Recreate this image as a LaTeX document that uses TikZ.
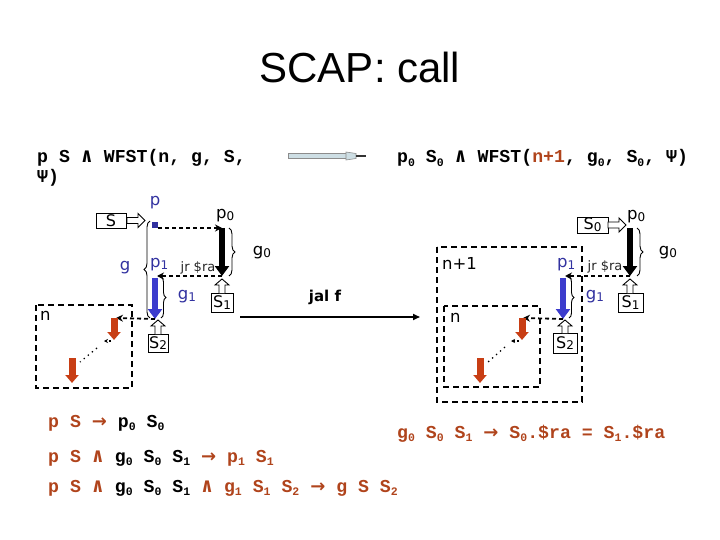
\documentclass[tikz,border=0pt]{standalone}
\usepackage{fontspec}
\setmainfont{DejaVu Sans}
\newfontfamily\monof{Liberation Mono}
\newfontfamily\symf{DejaVu Sans Mono}
\newfontfamily\titf{Liberation Sans}
\usetikzlibrary{arrows.meta,decorations.pathreplacing}
\definecolor{brn}{RGB}{176,68,28}
\definecolor{dblue}{RGB}{50,50,160}
\definecolor{ablue}{RGB}{60,60,205}
\definecolor{ared}{RGB}{200,62,20}
\definecolor{pale}{RGB}{205,222,228}
\newcommand\msub[1]{\raisebox{-0.35ex}{\fontsize{11.5}{11.5}\selectfont #1}}
\newcommand\lsub[1]{\raisebox{-0.2ex}{\fontsize{12}{12}\selectfont #1}}
\newcommand\andsym{{\symf\bfseries\fontsize{20}{20}\selectfont ∧}}
\newcommand\tosym{{\rmfamily\bfseries\fontsize{18}{18}\selectfont →}}
\newcommand\hollowR[3]{\draw[line width=0.9pt, fill=white] (#1,#3-3) -- (#2-7,#3-3) -- (#2-7,#3-7) -- (#2,#3) -- (#2-7,#3+7) -- (#2-7,#3+3) -- (#1,#3+3) -- cycle;}
\newcommand\hollowU[3]{\draw[line width=0.9pt, fill=white] (#1-3,#2) -- (#1-3,#3+6) -- (#1-7,#3+6) -- (#1,#3) -- (#1+7,#3+6) -- (#1+3,#3+6) -- (#1+3,#2);}
\begin{document}
\begin{tikzpicture}[x=1pt,y=-1pt,
  lbl/.style={font=\fontsize{16.5}{16.5}\selectfont, inner sep=0pt},
  blbl/.style={lbl, text=dblue},
  sbox/.style={draw, line width=0.9pt, inner sep=0pt, font=\fontsize{16}{16}\selectfont},
  mono/.style={inner sep=0pt, anchor=base west, font=\monof\bfseries\fontsize{18.2}{18.2}\selectfont},
  dasharr/.style={line width=1.8pt, dash pattern=on 4pt off 3pt, -{Stealth[length=7pt,width=7pt]}},
  bigarr/.style={line width=6pt, -{Triangle[length=10pt,width=14pt]}},
  redarr/.style={ared, line width=7pt, -{Triangle[length=8pt,width=13pt]}},
  brc/.style={decorate, decoration={brace, amplitude=6pt}, line width=0.9pt},
  dbox/.style={line width=2.6pt, dash pattern=on 6pt off 4pt},
  jrl/.style={font=\fontsize{13}{13}\selectfont, inner sep=0pt, text=black!85},
]
\useasboundingbox (0,0) rectangle (720,540);

% title
\node[font=\titf\fontsize{42}{42}\selectfont, anchor=base, inner sep=0pt] (title) at (360,83) {SCAP: call};

% top formulas
\node[mono] (t1) at (37,163) {p S \andsym{} WFST(n, g, S,};
\node[mono] (t2) at (37,183) {Ψ)};
\node[mono] (t3) at (397,163) {p\msub0 S\msub0 \andsym{} WFST(\textcolor{brn}{n+1}, g\msub0, S\msub0, Ψ)};

% top middle arrow
\coordinate (ma) at (288,156);
\coordinate (mb) at (366,156);
\draw[line width=0.6pt, draw=black!45, fill=pale] (ma) ++(0,-2.2) rectangle (346,158.2);
\draw[line width=0.6pt, draw=black!45, fill=pale] (346,152) -- (356,153.5) -- (356,158.5) -- (346,160) -- cycle;
\draw[line width=1.2pt, black!80] (356,156) -- (mb);

% ================= left diagram =================
\node[sbox, minimum width=30pt, minimum height=15pt] (S) at (111,220.5) {S};
\hollowR{127}{145}{220.5}
\node[blbl] (p) at (155,203) {p};
\node[fill=dblue, inner sep=0pt, minimum size=6pt] (sq) at (155,225) {};
\coordinate (a0) at (222,228);
\coordinate (a1) at (222,276);
\node[lbl, anchor=west] (p0) at (216,216) {p\lsub0};
\draw[dasharr] (sq.east |- a0) -- (a0);
\draw[bigarr] (a0) -- (a1);
\coordinate (b0) at (157,276);
\draw[dasharr] (a1) -- (b0);
\node[blbl, anchor=west] (p1) at (150,265) {p\lsub1};
\node[jrl] (jr) at (198,268) {jr \$ra};
\coordinate (b1) at (155,278);
\coordinate (b2) at (155,319);
\draw[bigarr, ablue] (b1) -- (b2);
\draw[brc] (229,228) -- (229,276);
\node[lbl] (g0) at (262,253) {g\lsub0};
\draw[brc, decoration={amplitude=5pt}] (161,277) -- (161,318);
\node[blbl] (g1) at (187,297) {g\lsub1};
\draw[brc, decoration={amplitude=6pt}] (150,318) -- (150,221);
\node[blbl] (g) at (125,268) {g};
\node[sbox, minimum width=22pt, minimum height=19pt] (S1) at (222,302.5) {S\lsub1};
\hollowU{222}{293}{279}
\node[sbox, minimum width=20pt, minimum height=18pt] (S2) at (158,343) {S\lsub2};
\hollowU{158}{334}{320}
\coordinate (r0) at (116,318);
\draw[dasharr] (b2) -- (r0);
\draw[dbox] (36,305) rectangle (132,388);
\node[lbl, anchor=west] (n) at (40,316) {n};
\coordinate (r1) at (114,340);
\draw[redarr] (114,318) -- (r1);
\coordinate (r2) at (104,341);
\draw[line width=1.2pt, dash pattern=on 2pt off 2pt, -{Stealth[length=4pt,width=4pt]}] (111,341) -- (r2);
\draw[line width=1.3pt, dash pattern=on 1.3pt off 4pt] (97,348) -- (80,362);
\draw[redarr] (72,358) -- (72,383);

% jal f
\coordinate (j0) at (240,317);
\coordinate (j1) at (420,317);
\draw[line width=1.6pt, -{Triangle[length=7pt,width=6pt]}] (j0) -- (j1);
\node[lbl, font=\bfseries\fontsize{15}{15}\selectfont] (jal) at (325,297) {jal f};

% ================= right diagram =================
\draw[dbox] (437,247) rectangle (582,402);
\node[lbl, anchor=west] (np1) at (442,263) {n+1};
\draw[dbox] (444,306) rectangle (540,387);
\node[lbl, anchor=west] (n2) at (450,318) {n};
\node[sbox, minimum width=31pt, minimum height=16pt] (S0) at (592.5,225) {S\lsub0};
\hollowR{608}{626}{225}
\node[lbl, anchor=west] (pp0) at (627,217) {p\lsub0};
\coordinate (c0) at (630,228);
\coordinate (c1) at (630,276);
\draw[bigarr] (c0) -- (c1);
\draw[brc] (637,228) -- (637,276);
\node[lbl] (gg0) at (668,253) {g\lsub0};
\node[jrl] (jr2) at (605,267) {jr \$ra};
\coordinate (d0) at (565,276);
\draw[dasharr] (c1) -- (d0);
\node[blbl, anchor=west] (pp1) at (557,265) {p\lsub1};
\coordinate (d1) at (563,278);
\coordinate (d2) at (563,319);
\draw[bigarr, ablue] (d1) -- (d2);
\draw[brc, decoration={amplitude=5pt}] (569,277) -- (569,318);
\node[blbl] (gg1) at (595,297) {g\lsub1};
\node[sbox, minimum width=25pt, minimum height=19pt] (SS1) at (630.5,302.5) {S\lsub1};
\hollowU{630}{293}{279}
\node[sbox, minimum width=24pt, minimum height=20pt] (SS2) at (565,343) {S\lsub2};
\hollowU{565}{333}{320}
\coordinate (e0) at (523,318);
\draw[dasharr] (d2) -- (e0);
\coordinate (e1) at (522,340);
\draw[redarr] (522,318) -- (e1);
\draw[line width=1.2pt, dash pattern=on 2pt off 2pt, -{Stealth[length=4pt,width=4pt]}] (519,341) -- (511,341);
\draw[line width=1.3pt, dash pattern=on 1.3pt off 4pt] (505,347) -- (488,362);
\draw[redarr] (480,358) -- (480,383);

% bottom formulas
\node[mono] (f1) at (48,427) {\textcolor{brn}{p S \tosym} p\msub0 S\msub0};
\node[mono] (f2) at (48,462) {\textcolor{brn}{p S \andsym} g\msub0 S\msub0 S\msub1 \textcolor{brn}{\tosym{} p\msub1 S\msub1}};
\node[mono] (f3) at (48,492) {\textcolor{brn}{p S \andsym} g\msub0 S\msub0 S\msub1 \textcolor{brn}{\andsym{} g\msub1 S\msub1 S\msub2 \tosym{} g S S\msub2}};
\node[mono, text=brn] (f4) at (397,438) {g\msub0 S\msub0 S\msub1 \tosym{} S\msub0.\$ra = S\msub1.\$ra};
\end{tikzpicture}
\end{document}
